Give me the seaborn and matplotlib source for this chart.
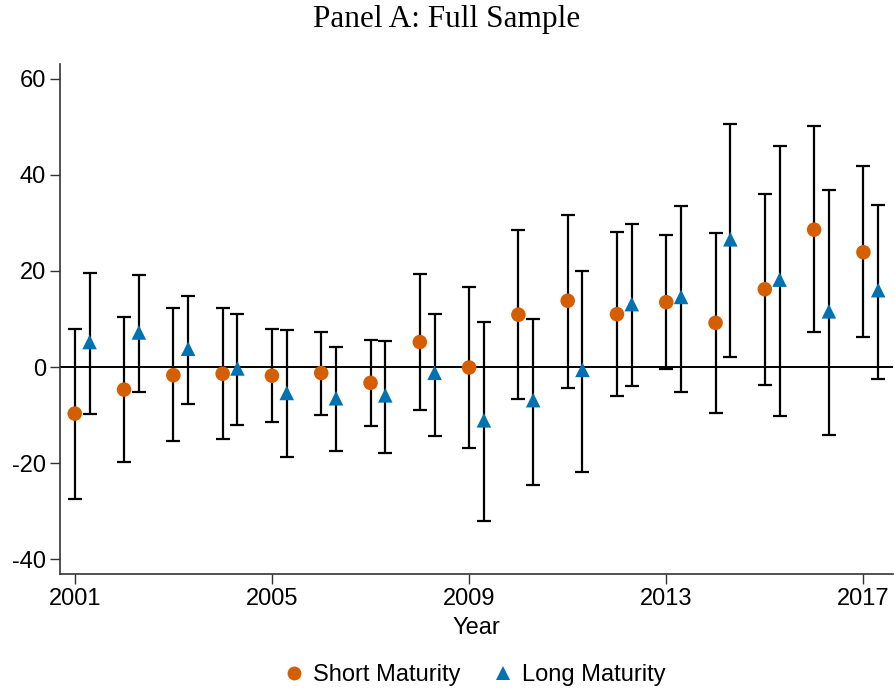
import numpy as np
import pandas as pd
import matplotlib
matplotlib.use("Agg")
import matplotlib.pyplot as plt
import seaborn as sns
from matplotlib.lines import Line2D

years = list(range(2001, 2018))
short_est = [-9.7, -4.7, -1.7, -1.4, -1.8, -1.25, -3.3, 5.2, -0.1, 10.9, 13.8, 11.0, 13.5, 9.2, 16.2, 28.6, 23.9]
short_lo = [-27.5, -19.8, -15.5, -14.9, -11.4, -9.9, -12.2, -8.9, -16.9, -6.7, -4.3, -6.1, -0.4, -9.6, -3.7, 7.3, 6.2]
short_hi = [7.9, 10.5, 12.2, 12.2, 8.0, 7.3, 5.7, 19.4, 16.7, 28.6, 31.6, 28.2, 27.5, 28.0, 36.1, 50.1, 41.8]
long_est = [5.2, 7.2, 3.8, -0.3, -5.4, -6.5, -5.9, -1.2, -11.1, -6.9, -0.6, 13.1, 14.6, 26.6, 18.2, 11.6, 16.0]
long_lo = [-9.7, -5.3, -7.7, -12.1, -18.8, -17.4, -17.8, -14.4, -32.0, -24.5, -21.9, -4.0, -5.1, 2.1, -10.1, -14.2, -2.4]
long_hi = [19.5, 19.1, 14.8, 11.0, 7.8, 4.1, 5.5, 11.1, 9.3, 10.0, 20.0, 29.8, 33.6, 50.6, 46.1, 36.8, 33.7]
x_ticks = [2001, 2005, 2009, 2013, 2017]
y_ticks = [-40, -20, 0, 20, 40, 60]
series_names = ["Short Maturity", "Long Maturity"]

sns.set_style("white")
plt.rcParams["axes.unicode_minus"] = False
plt.rcParams["font.family"] = ["Liberation Sans", "DejaVu Sans"]
plt.rcParams["text.color"] = "black"
plt.rcParams["xtick.color"] = "black"
plt.rcParams["ytick.color"] = "black"
plt.rcParams["axes.labelcolor"] = "black"

orange = "#D55E00"
blue = "#0072B2"
offset = 0.3

df = pd.concat([
    pd.DataFrame({"x": np.array(years, float), "est": short_est, "lo": short_lo, "hi": short_hi, "series": series_names[0]}),
    pd.DataFrame({"x": np.array(years, float) + offset, "est": long_est, "lo": long_lo, "hi": long_hi, "series": series_names[1]}),
], ignore_index=True)

fig = plt.figure(figsize=(8.94, 6.92), dpi=100)
ax = fig.add_axes([60/894, 1 - 574/692, (893 - 60)/894, (574 - 64)/692])

ax.axhline(0, color="black", lw=1.4, zorder=1)
ax.errorbar(df["x"], df["est"], yerr=[df["est"] - df["lo"], df["hi"] - df["est"]],
            fmt="none", ecolor="black", elinewidth=1.6, capsize=5, capthick=1.6, zorder=2)
sns.scatterplot(data=df, x="x", y="est", hue="series", style="series",
                palette={series_names[0]: orange, series_names[1]: blue},
                markers={series_names[0]: "o", series_names[1]: "^"},
                s=110, linewidth=0, ax=ax, zorder=3, legend=False)

ax.set_xlim(2000.7, 2017.6)
ax.set_ylim(-43.1, 63.1)
ax.set_xticks(x_ticks)
ax.set_yticks(y_ticks)
ax.set_xticklabels([str(t) for t in x_ticks])
ax.set_yticklabels([str(t) for t in y_ticks])
ax.tick_params(axis="both", direction="out", length=7, width=1, color="#333333",
               labelsize=17, pad=3, bottom=True, left=True)
for side in ["top", "right"]:
    ax.spines[side].set_visible(False)
for side in ["left", "bottom"]:
    ax.spines[side].set_color("#333333")
    ax.spines[side].set_linewidth(1.2)
ax.set_xlabel("Year", fontsize=17, labelpad=5)
ax.set_ylabel("")

fig.text(0.5, 1 - 19/692, "Panel A: Full Sample", ha="center", va="center",
         fontsize=22.5, family=["Liberation Serif", "DejaVu Serif"])

handles = [Line2D([], [], marker="o", ls="none", color=orange, markersize=10, markeredgewidth=0),
           Line2D([], [], marker="^", ls="none", color=blue, markersize=10, markeredgewidth=0)]
fig.legend(handles, series_names, loc="center", bbox_to_anchor=(474/894, 1 - 675/692),
           ncol=2, frameon=False, fontsize=17, handletextpad=0.3, columnspacing=1.3,
           handlelength=1.0)

fig.savefig("out.png", dpi=100)
